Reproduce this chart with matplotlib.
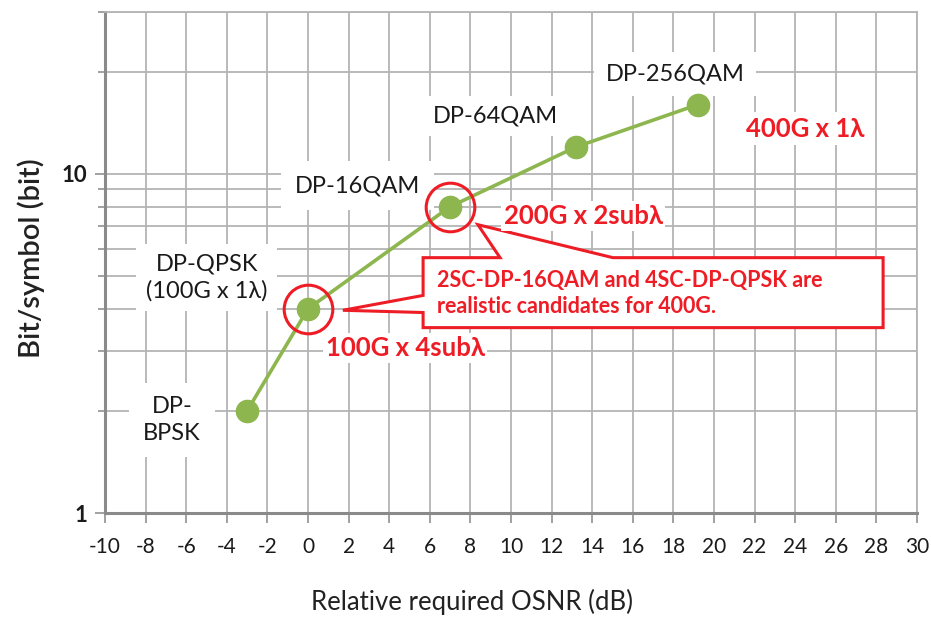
import matplotlib.pyplot as plt
from matplotlib.patches import Polygon
from matplotlib.ticker import FixedLocator, NullFormatter

# Dados
osnr = [-3, 0, 7, 13.2, 19.2]
bits = [2, 4, 8, 12, 16]
formatos = ['DP-\nBPSK', 'DP-QPSK\n(100G x 1λ)', 'DP-16QAM', 'DP-64QAM', 'DP-256QAM']
x_ticks = list(range(-10, 31, 2))
y_major = [1, 10]
y_minor = [2, 3, 4, 5, 6, 7, 8, 9, 20, 30]
destaque = [1, 2]  # pontos circulados (0 dB e 7 dB)

verde = '#8db64f'
vermelho = '#ee1c25'
grade = '#b4b4b4'
fonte = ['Lato', 'DejaVu Sans']

plt.rcParams['font.family'] = fonte
plt.rcParams['axes.unicode_minus'] = False

fig = plt.figure(figsize=(9.31, 6.28), dpi=100)
ax = fig.add_axes([105 / 931, 1 - 513 / 628, 812 / 931, 501 / 628])

ax.set_yscale('log')
ax.set_xlim(-10, 30)
ax.set_ylim(1, 30)

ax.xaxis.set_major_locator(FixedLocator(x_ticks))
ax.yaxis.set_major_locator(FixedLocator(y_major))
ax.yaxis.set_minor_locator(FixedLocator(y_minor))
ax.yaxis.set_minor_formatter(NullFormatter())
ax.set_yticklabels([str(v) for v in y_major])

ax.grid(True, which='both', axis='both', color=grade, lw=1.3, zorder=0)
ax.set_axisbelow(True)

for s in ['top', 'right']:
    ax.spines[s].set_color(grade)
    ax.spines[s].set_linewidth(1.3)
for s in ['left', 'bottom']:
    ax.spines[s].set_color('#8a8a8a')
    ax.spines[s].set_linewidth(2.2)

ax.tick_params(axis='x', which='major', direction='out', length=7, width=1.3,
               color='#9a9a9a', pad=10, labelsize=15, labelcolor='#1a1a1a')
ax.tick_params(axis='y', which='major', direction='out', length=7, width=1.3,
               color='#9a9a9a', pad=6, labelsize=16, labelcolor='#1a1a1a')
ax.tick_params(axis='y', which='minor', direction='out', length=5, width=1.3,
               color='#9a9a9a')
for t in ax.get_yticklabels():
    t.set_fontweight('bold')

ax.set_xlabel('Relative required OSNR (dB)', fontsize=18.5, color='#222222')
ax.xaxis.set_label_coords((472 - 105) / 812, -(589 - 513) / 501)
ax.set_ylabel('Bit/symbol (bit)', fontsize=21, fontweight='semibold', color='#222222')
ax.yaxis.set_label_coords(-(105 - 45) / 812, (513 - 258) / 501)

# Curva principal
ax.plot(osnr, bits, color=verde, lw=2.6, marker='o', markersize=16,
        markerfacecolor=verde, markeredgecolor=verde, zorder=5)

# Círculos vermelhos
ax.plot([osnr[i] for i in destaque], [bits[i] for i in destaque], linestyle='none',
        marker='o', markersize=35, markerfacecolor='none', markeredgecolor=vermelho,
        markeredgewidth=2.2, zorder=6)

# Rótulos dos formatos
caixa = dict(facecolor='white', edgecolor='none')
ax.text(-6.7, 1.88, formatos[0], ha='center', va='center', fontsize=17,
        color='#1a1a1a', linespacing=1.3, zorder=3, bbox=dict(caixa, pad=10))
ax.text(-4.98, 4.94, formatos[1], ha='center', va='center', fontsize=17,
        color='#1a1a1a', linespacing=1.3, zorder=3, bbox=dict(caixa, pad=7))
ax.text(2.46, 9.22, formatos[2], ha='center', va='center', fontsize=17,
        color='#1a1a1a', zorder=3, bbox=dict(caixa, pad=10))
ax.text(9.21, 14.8, formatos[3], ha='center', va='center', fontsize=17,
        color='#1a1a1a', zorder=3, bbox=dict(caixa, pad=7))
ax.text(18.08, 19.7, formatos[4], ha='center', va='center', fontsize=17,
        color='#1a1a1a', zorder=3, bbox=dict(caixa, pad=8))

# Rótulos vermelhos
ax.text(24.48, 13.6, '400G x 1λ', ha='center', va='center', fontsize=18.5,
        fontweight='bold', color=vermelho, zorder=7, bbox=dict(caixa, pad=3))
ax.text(13.55, 7.52, '200G x 2subλ', ha='center', va='center', fontsize=18.5,
        fontweight='bold', color=vermelho, zorder=7, bbox=dict(caixa, pad=2))
ax.text(4.78, 3.06, '100G x 4subλ', ha='center', va='center', fontsize=18.5,
        fontweight='bold', color=vermelho, zorder=7, bbox=dict(caixa, pad=2))

# Balão explicativo com duas setas
balao = [(5.67, 5.66), (9.46, 5.66), (8.37, 7.08), (15.02, 5.66), (28.33, 5.66),
         (28.33, 3.52), (5.67, 3.52), (5.67, 3.90), (1.72, 3.96), (5.67, 4.38)]
ax.add_patch(Polygon(balao, closed=True, facecolor='white', edgecolor=vermelho,
                     lw=2.2, joinstyle='miter', zorder=4))
ax.text(6.35, 4.44, '2SC-DP-16QAM and 4SC-DP-QPSK are\nrealistic candidates for 400G.',
        ha='left', va='center', fontsize=15.5, fontweight='bold', color=vermelho,
        linespacing=1.3, zorder=7)

fig.savefig('out.png', dpi=100, facecolor='white')
